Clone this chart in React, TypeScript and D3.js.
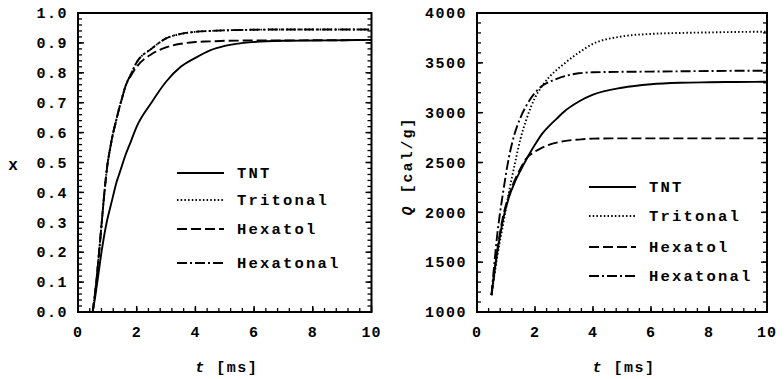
import React from "react";
import * as d3 from "d3";

const seriesNames = ["TNT", "Tritonal", "Hexatol", "Hexatonal"];

// Left panel: x vs t [ms]
const tLeft = [0.5, 0.6, 0.7, 0.8, 0.9, 1.0, 1.1, 1.2, 1.3, 1.4, 1.5, 1.6, 1.8, 2.0, 2.5, 3.0, 3.5, 4.0, 4.5, 5.0, 6.0, 7.0, 8.0, 9.0, 10.0];
const xTNT = [0, 0.06, 0.13, 0.2, 0.26, 0.31, 0.35, 0.39, 0.43, 0.46, 0.49, 0.52, 0.57, 0.62, 0.70, 0.77, 0.82, 0.85, 0.875, 0.89, 0.903, 0.907, 0.908, 0.909, 0.91];
const xTritonal = [0, 0.08, 0.18, 0.29, 0.40, 0.49, 0.55, 0.6, 0.64, 0.68, 0.715, 0.75, 0.795, 0.835, 0.88, 0.915, 0.93, 0.937, 0.94, 0.942, 0.944, 0.945, 0.945, 0.945, 0.945];
const xHexatol = [0, 0.08, 0.18, 0.29, 0.40, 0.49, 0.55, 0.6, 0.64, 0.68, 0.715, 0.75, 0.79, 0.82, 0.862, 0.885, 0.897, 0.903, 0.905, 0.907, 0.908, 0.908, 0.909, 0.909, 0.91];
const xHexatonal = [0, 0.08, 0.18, 0.29, 0.40, 0.49, 0.55, 0.6, 0.64, 0.68, 0.715, 0.75, 0.795, 0.835, 0.88, 0.915, 0.93, 0.937, 0.94, 0.942, 0.944, 0.945, 0.945, 0.945, 0.945];

// Right panel: Q [cal/g] vs t [ms]
const tRight = [0.5, 0.7, 0.9, 1.1, 1.3, 1.5, 1.7, 2.0, 2.25, 2.5, 2.75, 3.0, 3.5, 4.0, 5.0, 6.0, 7.0, 8.0, 9.0, 10.0];
const qTNT = [1170, 1600, 1930, 2150, 2300, 2420, 2530, 2680, 2790, 2870, 2940, 3010, 3110, 3180, 3250, 3285, 3300, 3305, 3308, 3310];
const qTritonal = [1170, 1560, 1880, 2200, 2480, 2740, 2930, 3150, 3270, 3360, 3430, 3490, 3600, 3690, 3765, 3790, 3800, 3805, 3810, 3812];
const qHexatol = [1170, 1620, 1960, 2170, 2320, 2440, 2540, 2610, 2650, 2680, 2700, 2715, 2730, 2740, 2742, 2742, 2742, 2742, 2742, 2742];
const qHexatonal = [1170, 1780, 2200, 2550, 2790, 2950, 3070, 3200, 3270, 3310, 3340, 3365, 3395, 3405, 3410, 3412, 3415, 3418, 3420, 3420];

const xTickLabels = ["0", "2", "4", "6", "8", "10"];
const leftYTickLabels = ["0.0", "0.1", "0.2", "0.3", "0.4", "0.5", "0.6", "0.7", "0.8", "0.9", "1.0"];
const rightYTickLabels = ["1000", "1500", "2000", "2500", "3000", "3500", "4000"];

const dashes = ["none", "1.5,2.2", "10,4", "10,3,2,3"];
const FONT = "'Liberation Mono', 'DejaVu Sans Mono', monospace";

type PanelProps = {
  x0: number; x1: number; y0: number; y1: number;
  yDomain: [number, number];
  yMinorStep: number;
  yTickLabels: string[];
  t: number[];
  series: number[][];
  legendX: number;
  legendRows: number[];
  yLabel: React.ReactNode;
};

function Panel(p: PanelProps) {
  const xs = d3.scaleLinear().domain([0, 10]).range([p.x0, p.x1]);
  const ys = d3.scaleLinear().domain(p.yDomain).range([p.y1, p.y0]);
  const line = d3.line<[number, number]>().x(d => xs(d[0])).y(d => ys(d[1])).curve(d3.curveMonotoneX);
  const xMinor = d3.range(0, 10.0001, 0.4);
  const xMajor = xTickLabels.map(Number);
  const yMinor = d3.range(p.yDomain[0], p.yDomain[1] + 1e-6, p.yMinorStep);
  const yMajor = p.yTickLabels.map(Number);
  const order = [1, 0, 2, 3];
  return (
    <g>
      {order.map(i => (
        <path key={i} d={line(p.t.map((tt, j) => [tt, p.series[i][j]]) as [number, number][]) || ""}
          fill="none" stroke="#000" strokeWidth={1.9} strokeDasharray={dashes[i]} />
      ))}
      <rect x={p.x0} y={p.y0} width={p.x1 - p.x0} height={p.y1 - p.y0} fill="none" stroke="#000" strokeWidth={2} />
      {xMinor.map((v, k) => (
        <line key={"xm" + k} x1={xs(v)} x2={xs(v)} y1={p.y1} y2={p.y1 - 4} stroke="#000" strokeWidth={1.3} />
      ))}
      {xMajor.map((v, k) => (
        <line key={"xM" + k} x1={xs(v)} x2={xs(v)} y1={p.y1} y2={p.y1 - 6} stroke="#000" strokeWidth={1.5} />
      ))}
      {yMinor.map((v, k) => (
        <g key={"ym" + k}>
          <line x1={p.x0} x2={p.x0 + 4} y1={ys(v)} y2={ys(v)} stroke="#000" strokeWidth={1.3} />
          <line x1={p.x1} x2={p.x1 - 4} y1={ys(v)} y2={ys(v)} stroke="#000" strokeWidth={1.3} />
        </g>
      ))}
      {yMajor.map((v, k) => (
        <g key={"yM" + k}>
          <line x1={p.x0} x2={p.x0 + 6} y1={ys(v)} y2={ys(v)} stroke="#000" strokeWidth={1.5} />
          <line x1={p.x1} x2={p.x1 - 6} y1={ys(v)} y2={ys(v)} stroke="#000" strokeWidth={1.5} />
        </g>
      ))}
      {xTickLabels.map((s, k) => (
        <text key={"xl" + k} x={xs(xMajor[k])} y={337} textAnchor="middle" fontFamily={FONT} fontWeight="bold" fontSize={15} letterSpacing={1}>{s}</text>
      ))}
      {p.yTickLabels.map((s, k) => (
        <text key={"yl" + k} x={p.x0 - 10} y={ys(yMajor[k])} dy="0.35em" textAnchor="end" fontFamily={FONT} fontWeight="bold" fontSize={15} letterSpacing={1.5}>{s}</text>
      ))}
      <text x={(p.x0 + p.x1) / 2 + 2} y={372} textAnchor="middle" fontFamily={FONT} fontWeight="bold" fontSize={15} letterSpacing={1.5}>
        <tspan fontStyle="italic">t</tspan> [ms]
      </text>
      {p.yLabel}
      {seriesNames.map((name, i) => (
        <g key={"lg" + i}>
          <line x1={p.legendX} x2={p.legendX + 47} y1={p.legendRows[i]} y2={p.legendRows[i]} stroke="#000" strokeWidth={1.9} strokeDasharray={dashes[i]} />
          <text x={p.legendX + 60} y={p.legendRows[i]} dy="0.35em" fontFamily={FONT} fontWeight="bold" fontSize={15.5} letterSpacing={2.2}>{name}</text>
        </g>
      ))}
    </g>
  );
}

export default function App() {
  return (
    <svg width={784} height={379} style={{ display: "block", position: "absolute", left: 0, top: 0, background: "#fff" }}>
      <rect width={784} height={379} fill="#fff" />
      <Panel x0={78} x1={371.5} y0={13} y1={312} yDomain={[0, 1]} yMinorStep={0.02}
        yTickLabels={leftYTickLabels} t={tLeft} series={[xTNT, xTritonal, xHexatol, xHexatonal]}
        legendX={177} legendRows={[173, 200, 229, 263]}
        yLabel={<text x={13} y={164} dy="0.35em" textAnchor="middle" fontFamily={FONT} fontWeight="bold" fontSize={16}>x</text>} />
      <Panel x0={477} x1={767} y0={13} y1={312} yDomain={[1000, 4000]} yMinorStep={100}
        yTickLabels={rightYTickLabels} t={tRight} series={[qTNT, qTritonal, qHexatol, qHexatonal]}
        legendX={589} legendRows={[187, 216, 247, 276]}
        yLabel={<text transform="translate(407,166) rotate(-90)" dy="0.35em" textAnchor="middle" fontFamily={FONT} fontWeight="bold" fontSize={15} letterSpacing={2}><tspan fontStyle="italic">Q</tspan> [cal/g]</text>} />
    </svg>
  );
}
